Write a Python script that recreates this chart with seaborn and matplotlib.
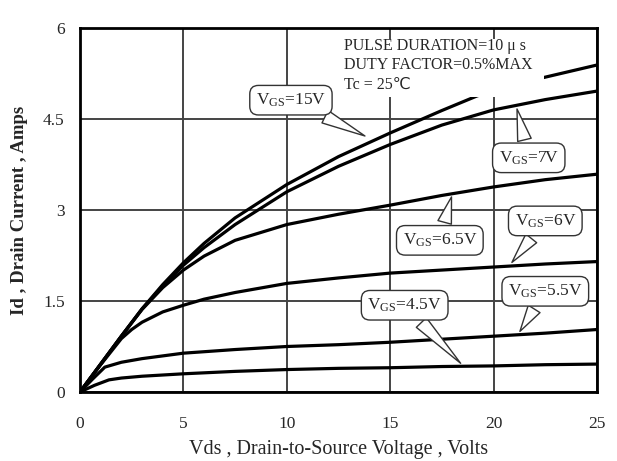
import numpy as np
import pandas as pd
import seaborn as sns
import matplotlib
matplotlib.use("Agg")
import matplotlib.pyplot as plt
from matplotlib.patches import Rectangle

# ---- data ----
vds_15 = [0, 1, 2, 3, 4, 5, 6, 7.5, 10, 12.5, 15, 17.5, 19.2, 20.5, 22.5, 25]
id_15 = [0, 0.46, 0.92, 1.37, 1.77, 2.13, 2.45, 2.87, 3.42, 3.88, 4.27, 4.64, 4.88, 5.02, 5.19, 5.39]

vds_7 = [0, 1, 2, 3, 4, 5, 6, 7.5, 10, 12.5, 15, 17.5, 20, 22.5, 25]
id_7 = [0, 0.46, 0.92, 1.37, 1.75, 2.09, 2.38, 2.76, 3.3, 3.72, 4.08, 4.4, 4.65, 4.82, 4.96]

vds_65 = [0, 1, 2, 3, 4, 5, 6, 7.5, 10, 12.5, 15, 17.5, 20, 22.5, 25]
id_65 = [0, 0.46, 0.92, 1.36, 1.72, 2.01, 2.24, 2.5, 2.76, 2.93, 3.08, 3.24, 3.38, 3.5, 3.59]

vds_6 = [0, 1, 2, 2.5, 3, 4, 5, 6, 7.5, 10, 12.5, 15, 17.5, 20, 22.5, 25]
id_6 = [0, 0.45, 0.88, 1.03, 1.15, 1.32, 1.43, 1.53, 1.64, 1.79, 1.88, 1.96, 2.01, 2.06, 2.11, 2.15]

vds_55 = [0, 0.6, 1.2, 2, 3, 5, 7.5, 10, 12.5, 15, 17.5, 20, 22.5, 25]
id_55 = [0, 0.21, 0.41, 0.49, 0.55, 0.64, 0.7, 0.75, 0.78, 0.82, 0.87, 0.92, 0.97, 1.03]

vds_45 = [0, 0.7, 1.4, 2, 3, 5, 7.5, 10, 12.5, 15, 17.5, 20, 22.5, 25]
id_45 = [0, 0.11, 0.2, 0.23, 0.26, 0.3, 0.34, 0.37, 0.39, 0.4, 0.42, 0.43, 0.45, 0.46]

series_names = ["15V", "7V", "6.5V", "6V", "5.5V", "4.5V"]
x_ticks = [0, 5, 10, 15, 20, 25]
y_ticks = [0, 1.5, 3, 4.5, 6]
y_tick_labels = ["0", "1.5", "3", "4.5", "6"]

frames = []
for name, xs, ys in zip(series_names,
                        [vds_15, vds_7, vds_65, vds_6, vds_55, vds_45],
                        [id_15, id_7, id_65, id_6, id_55, id_45]):
    frames.append(pd.DataFrame({"Vds": xs, "Id": ys, "Vgs": name}))
df = pd.concat(frames, ignore_index=True)

# ---- style ----
sns.set_style("white")
plt.rcParams["font.family"] = ["Liberation Serif", "DejaVu Serif"]
plt.rcParams["mathtext.fontset"] = "custom"
plt.rcParams["mathtext.rm"] = "Liberation Serif"
plt.rcParams["mathtext.it"] = "Liberation Serif:italic"

fig = plt.figure(figsize=(6.17, 4.61), dpi=100)
ax = fig.add_axes([80 / 617, 69 / 461, 517 / 617, 364 / 461])

sns.lineplot(data=df, x="Vds", y="Id", hue="Vgs", units="Vgs", estimator=None,
             palette=["black"] * len(series_names), linewidth=2.3,
             legend=False, sort=False, ax=ax, zorder=3)

ax.set_xlim(0, 25)
ax.set_ylim(0, 6)
ax.set_xticks(x_ticks)
ax.set_yticks(y_ticks)
ax.set_yticklabels(y_tick_labels)
ax.grid(True, color="#444444", linewidth=1.4, zorder=0)
ax.set_axisbelow(True)
for s in ax.spines.values():
    s.set_color("black")
    s.set_linewidth(2.0)
ax.tick_params(axis="both", length=0, labelsize=12.5)
ax.tick_params(axis="x", pad=17)
ax.tick_params(axis="y", pad=11)

ax.set_xlabel("Vds , Drain-to-Source Voltage , Volts", fontsize=14.5, labelpad=6)
ax.set_ylabel("Id , Drain Current , Amps", fontsize=13.5, fontweight="bold", labelpad=11)

# white box behind the condition text (interrupts lines/grid as in reference)
ax.add_patch(Rectangle((12.55, 4.87), 9.9, 0.95, facecolor="white",
                       edgecolor="none", zorder=4))
ax.text(12.75, 5.84, "PULSE DURATION=10 μ s\nDUTY FACTOR=0.5%MAX\nTc = 25℃",
        fontsize=11.5, va="top", ha="left", linespacing=1.3, zorder=5,
        family=["Liberation Serif", "DejaVu Sans"])

# callouts
callouts = [
    ("15V", (10.2, 4.81), (13.9, 4.2)),
    ("7V", (21.7, 3.86), (21.1, 4.71)),
    ("6.5V", (17.4, 2.5), (18.0, 3.26)),
    ("6V", (22.5, 2.82), (20.8, 2.1)),
    ("5.5V", (22.5, 1.66), (21.2, 0.96)),
    ("4.5V", (15.7, 1.43), (18.5, 0.44)),
]
for name, txy, pxy in callouts:
    ax.annotate(r"V$_{\mathrm{GS}}$=" + name, xy=pxy, xytext=txy,
                ha="center", va="center", fontsize=12.5, zorder=6,
                bbox=dict(boxstyle="round,pad=0.35,rounding_size=0.5",
                          fc="white", ec="#333333", lw=1.0),
                arrowprops=dict(arrowstyle="wedge,tail_width=0.8,shrink_factor=0.5",
                                fc="white", ec="#333333", lw=1.0))

fig.savefig("out.png", dpi=100)
